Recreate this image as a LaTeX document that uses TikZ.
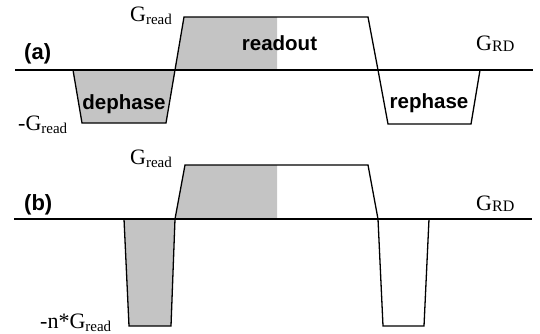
\documentclass[tikz,border=0pt]{standalone}
\usepackage{fontspec}
\setmainfont{Liberation Serif}
\setsansfont{Liberation Sans}
\newcommand{\Gsub}[1]{G\raisebox{-3pt}{\fontsize{15}{15}\selectfont #1}}
\tikzset{
  wave/.style={line width=1.3pt, line join=miter},
  shade/.style={fill=black!23},
  lobelabel/.style={font=\sffamily\bfseries\fontsize{20.5}{20.5}\selectfont, inner sep=0pt, anchor=base},
  panel/.style={font=\sffamily\bfseries\fontsize{22}{22}\selectfont, inner sep=0pt, anchor=base west},
  amp/.style={font=\fontsize{22}{22}\selectfont, inner sep=0pt, anchor=base west}
}
\begin{document}
\begin{tikzpicture}[x=1pt, y=-1pt]
\useasboundingbox (0,0) rectangle (540,333);

% ---------- (a) ----------
% shaded areas
\fill[shade] (73,70) -- (175,70) -- (166,123) -- (82,123) -- cycle;
\fill[shade] (175,70) -- (184,17) -- (277,17) -- (277,70) -- cycle;
% baseline
\draw[wave] (15,70) -- (533,70);
% dephase lobe
\draw[wave] (73,70) -- (82,123) -- (166,123) -- (175,70);
% readout plateau
\draw[wave] (175,70) -- (184,17) -- (368,17) -- (378,70);
% rephase lobe
\draw[wave] (378,70) -- (388,124) -- (471,124) -- (480,70);

\node[panel] (pa) at (24,59) {(a)};
\node[lobelabel] (dph) at (124,109) {dephase};
\node[lobelabel] (rdo) at (279.5,50) {readout};
\node[lobelabel] (rph) at (429,108) {rephase};
\node[amp] (ga) at (130,21) {\Gsub{read}};
\node[amp] (mga) at (18,130) {-\Gsub{read}};
\node[amp] (grda) at (476,50) {G\raisebox{-1.5pt}{\fontsize{16}{16}\selectfont RD}};

% ---------- (b) ----------
\fill[shade] (124,219) -- (175,219) -- (171,326) -- (129,326) -- cycle;
\fill[shade] (175,219) -- (185,165) -- (277,165) -- (277,219) -- cycle;
\draw[wave] (14,219) -- (532,219);
\draw[wave] (124,219) -- (129,326) -- (171,326) -- (175,219);
\draw[wave] (175,219) -- (185,165) -- (368,165) -- (378,219);
\draw[wave] (378,219) -- (383,326) -- (424,326) -- (429,219);

\node[panel] (pb) at (24,210) {(b)};
\node[amp] (gb) at (130,164) {\Gsub{read}};
\node[amp] (mgb) at (40,328) {-n*\Gsub{read}};
\node[amp] (grdb) at (476,210) {G\raisebox{-1.5pt}{\fontsize{16}{16}\selectfont RD}};
\end{tikzpicture}
\end{document}
